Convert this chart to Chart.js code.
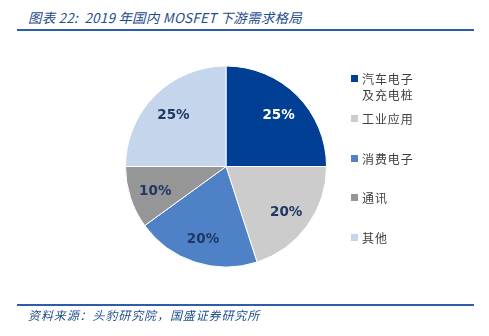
<!DOCTYPE html>
<html>
<head>
<meta charset="utf-8">
<script src="https://cdn.jsdelivr.net/npm/chart.js@4"></script>
<style>
  body { margin: 0; background: #fff; }
  #wrap { position: relative; width: 489px; height: 336px; overflow: hidden; }
  #pieChart { position: absolute; left: 0; top: 0; }
  .title { position: absolute; left: 28px; top: 7px; font: italic 13.5px "Noto Sans CJK SC", sans-serif; letter-spacing: 0.2px; color: #1F4E8C; white-space: nowrap; }
  .rule { position: absolute; left: 17px; width: 457px; height: 2px; background: #2E5DA8; }
  .source { position: absolute; left: 28px; top: 304px; font: italic 12px "Noto Sans CJK SC", sans-serif; letter-spacing: 0.9px; color: #1F4E8C; white-space: nowrap; }
  .legend { position: absolute; left: 351px; top: 0; font: 12px "Noto Sans CJK SC", sans-serif; color: #404040; letter-spacing: 0.9px; }
  .item { position: absolute; left: 0; white-space: nowrap; line-height: 16px; }
  .item i { position: absolute; left: 0; top: 4px; width: 7px; height: 7px; }
  .item span { position: absolute; left: 11px; top: 0; }
</style>
</head>
<body>
<div id="wrap">
  <div class="title">图表 22:&nbsp; 2019 年国内 MOSFET 下游需求格局</div>
  <div class="rule" style="top:29px"></div>
  <canvas id="pieChart" width="489" height="336"></canvas>
  <div class="legend" id="legend"></div>
  <div class="rule" style="top:304px"></div>
  <div class="source" style="top:306px">资料来源：头豹研究院，国盛证券研究所</div>
</div>
<script>
/* Data */
const categories = ['汽车电子\n及充电桩', '工业应用', '消费电子', '通讯', '其他'];
const shares = [25, 20, 20, 10, 25];
const colors = ['#003F94', '#CCCCCC', '#4F81C6', '#969696', '#C5D5EC'];
const labelColors = ['#FFFFFF', '#1F3864', '#1F3864', '#1F3864', '#1F3864'];

/* Legend (html) */
const legendTops = [71, 111, 151, 190, 230];
const legend = document.getElementById('legend');
categories.forEach((name, i) => {
  const item = document.createElement('div');
  item.className = 'item';
  item.style.top = legendTops[i] + 'px';
  item.innerHTML = '<i style="background:' + colors[i] + '"></i><span>' + name.replace('\n', '<br>') + '</span>';
  legend.appendChild(item);
});

/* Percent labels inside slices */
const sliceLabels = {
  id: 'sliceLabels',
  afterDatasetsDraw(chart) {
    const ctx = chart.ctx;
    const meta = chart.getDatasetMeta(0);
    ctx.save();
    ctx.font = 'bold 13.5px "DejaVu Sans", sans-serif';
    ctx.textAlign = 'center';
    ctx.textBaseline = 'middle';
    meta.data.forEach((arc, i) => {
      const mid = (arc.startAngle + arc.endAngle) / 2;
      const r = arc.outerRadius * 0.74;
      ctx.fillStyle = labelColors[i];
      ctx.fillText(shares[i] + '%', arc.x + Math.cos(mid) * r, arc.y + 2 + Math.sin(mid) * r);
    });
    ctx.restore();
  }
};

const canvas = document.getElementById('pieChart');
new Chart(canvas.getContext('2d'), {
  type: 'pie',
  data: {
    labels: categories,
    datasets: [{
      data: shares,
      backgroundColor: colors,
      borderColor: '#FFFFFF',
      borderWidth: 1
    }]
  },
  options: {
    responsive: false,
    animation: false,
    layout: { padding: { left: 125, right: 162, top: 65, bottom: 68 } },
    plugins: {
      legend: { display: false },
      tooltip: { enabled: false }
    }
  },
  plugins: [sliceLabels]
});
</script>
</body>
</html>
